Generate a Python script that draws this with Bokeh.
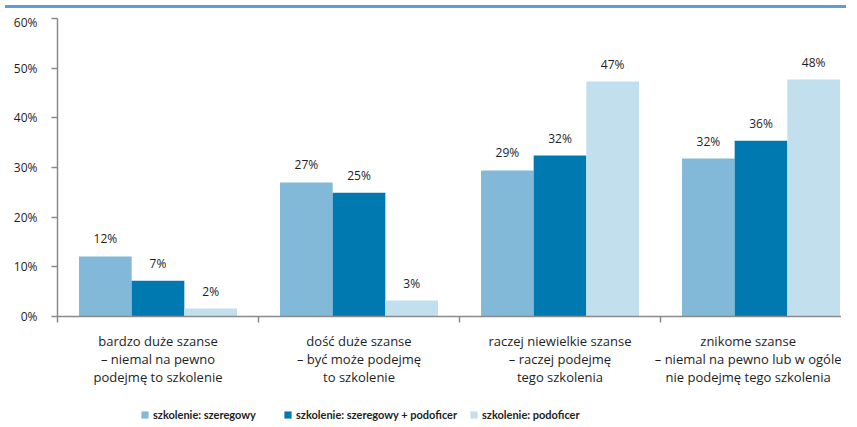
from bokeh.plotting import figure
from bokeh.models import ColumnDataSource, Range1d, FixedTicker, Legend, LegendItem, Div
from bokeh.layouts import column
from bokeh.embed import file_html
from bokeh.resources import INLINE
from bokeh.core.properties import value

categories = [
    "bardzo duże szanse\n– niemal na pewno\npodejmę to szkolenie",
    "dość duże szanse\n– być może podejmę\nto szkolenie",
    "raczej niewielkie szanse\n– raczej podejmę\ntego szkolenia",
    "znikome szanse\n– niemal na pewno lub w ogóle\nnie podejmę tego szkolenia",
]
series_names = ["szkolenie: szeregowy", "szkolenie: szeregowy + podoficer", "szkolenie: podoficer"]
szeregowy = [12.1, 27.0, 29.4, 31.8]
szeregowy_podoficer = [7.2, 24.9, 32.4, 35.4]
podoficer = [1.6, 3.2, 47.3, 47.7]
labels_szeregowy = ["12%", "27%", "29%", "32%"]
labels_szeregowy_podoficer = ["7%", "25%", "32%", "36%"]
labels_podoficer = ["2%", "3%", "47%", "48%"]
y_ticks = [0, 10, 20, 30, 40, 50, 60]
y_tick_labels = ["0%", "10%", "20%", "30%", "40%", "50%", "60%"]

colors = ["#82b9d8", "#0079b1", "#c2dfed"]
FONT = "Open Sans"
LEG_FONT = "Lato"
GRAY = "#8a8a8a"
TXT = "#1e1e1e"

W = 841
H_MAIN = 392
H_LEG = 16
LEFT = 57
BAR_W = 0.262
offsets = [-BAR_W, 0.0, BAR_W]

p = figure(width=W, height=H_MAIN, output_backend="svg", toolbar_location=None,
           x_range=Range1d(0, (W - LEFT) / 201.0), y_range=Range1d(0, 60),
           min_border_left=LEFT, min_border_right=0, min_border_top=5,
           min_border_bottom=H_MAIN - 5 - 298)
p.outline_line_color = None
p.xgrid.visible = False
p.ygrid.visible = False

centers = [i + 0.5 for i in range(len(categories))]
all_vals = [szeregowy, szeregowy_podoficer, podoficer]
all_labels = [labels_szeregowy, labels_szeregowy_podoficer, labels_podoficer]
for k, (vals, labs) in enumerate(zip(all_vals, all_labels)):
    src = ColumnDataSource(dict(x=[c + offsets[k] for c in centers], top=vals, lab=labs))
    p.vbar(x="x", top="top", bottom=0, width=BAR_W, source=src,
           fill_color=colors[k], line_color=None)
    p.text(x="x", y="top", text="lab", source=src, text_align="center",
           text_baseline="bottom", y_offset=-9, text_font=value(FONT),
           text_font_size="12px", text_color=TXT)

# y axis
ya = p.yaxis[0]
ya.ticker = FixedTicker(ticks=y_ticks)
ya.major_label_overrides = {t: l for t, l in zip(y_ticks, y_tick_labels)}
ya.axis_line_color = GRAY
ya.axis_line_width = 1.5
ya.major_tick_line_color = GRAY
ya.major_tick_line_width = 1.5
ya.major_tick_in = 0
ya.major_tick_out = 6
ya.minor_tick_line_color = None
ya.major_label_standoff = 14
ya.major_label_text_font = FONT
ya.major_label_text_font_size = "12px"
ya.major_label_text_color = TXT

# x axis
xa = p.xaxis[0]
xa.ticker = FixedTicker(ticks=centers, minor_ticks=[0, 1, 2, 3])
xa.major_label_overrides = {c: l for c, l in zip(centers, categories)}
xa.axis_line_color = GRAY
xa.axis_line_width = 1.5
xa.major_tick_line_color = None
xa.major_tick_in = 0
xa.major_tick_out = 0
xa.minor_tick_line_color = GRAY
xa.minor_tick_line_width = 1.5
xa.minor_tick_in = 0
xa.minor_tick_out = 6
xa.major_label_standoff = 9
xa.major_label_text_font = FONT
xa.major_label_text_font_size = "13px"
xa.major_label_text_color = TXT
xa.major_label_text_line_height = 1.0

# legend strip (frame is aligned with the main plot's frame)
q = figure(width=W, height=H_LEG, output_backend="svg", toolbar_location=None,
           x_range=Range1d(0, 1), y_range=Range1d(0, 1),
           x_axis_type=None, y_axis_type=None,
           min_border=0, min_border_left=0, min_border_right=0,
           min_border_top=0, min_border_bottom=0)
q.outline_line_color = None
q.xgrid.visible = False
q.ygrid.visible = False
leg_x = [140 - LEFT, 283 - LEFT, 469 - LEFT]
for k in range(3):
    r = q.vbar(x=[0], top=[0], width=0, fill_color=colors[k], line_color=None)
    leg = Legend(items=[LegendItem(label=series_names[k], renderers=[r])],
                 location=(leg_x[k], 0), orientation="horizontal",
                 border_line_color=None, background_fill_alpha=0,
                 padding=0, margin=0, spacing=0,
                 glyph_width=9, glyph_height=9, label_standoff=4,
                 label_text_font=LEG_FONT, label_text_font_size="11px",
                 label_text_font_style="bold", label_text_color=TXT,
                 label_height=12)
    q.add_layout(leg, "center")

top_line = Div(width=W, height=3, styles={"background-color": "#5d9ed4"})
layout = column(top_line, p, q, spacing=0)

open("out.html", "w").write(file_html(layout, INLINE))
